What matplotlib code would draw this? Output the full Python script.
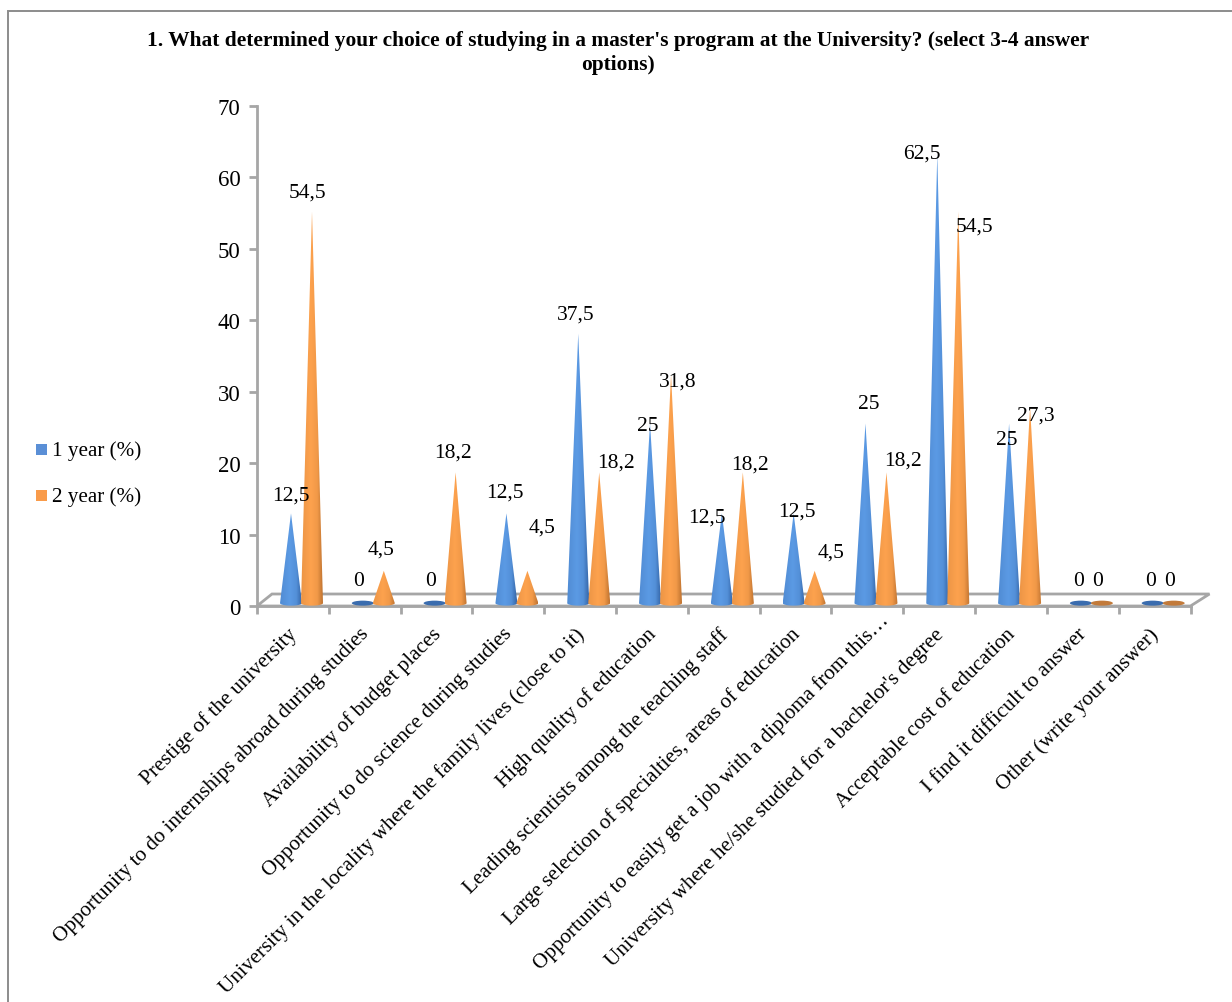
import numpy as np
import matplotlib
matplotlib.use('Agg')
import matplotlib.pyplot as plt
from matplotlib.colors import LinearSegmentedColormap
from matplotlib.patches import Ellipse, Polygon, Rectangle

W, H = 1232, 1003

categories = [
    'Prestige of the university',
    'Opportunity to do internships abroad during studies',
    'Availability of budget places',
    'Opportunity to do science during studies',
    'University in the locality where the family lives (close to it)',
    'High quality of education',
    'Leading scientists among the teaching staff',
    'Large selection of specialties, areas of education',
    'Opportunity to easily get a job with a diploma from this…',
    "University where he/she studied for a bachelor's degree",
    'Acceptable cost of education',
    'I find it difficult to answer',
    'Other (write your answer)',
]
year1 = [12.5, 0, 0, 12.5, 37.5, 25, 12.5, 12.5, 25, 62.5, 25, 0, 0]
year2 = [54.5, 4.5, 18.2, 4.5, 18.2, 31.8, 18.2, 4.5, 18.2, 54.5, 27.3, 0, 0]
labels1 = ['12,5', '0', '0', '12,5', '37,5', '25', '12,5', '12,5', '25', '62,5', '25', '0', '0']
labels2 = ['54,5', '4,5', '18,2', '4,5', '18,2', '31,8', '18,2', '4,5', '18,2', '54,5', '27,3', '0', '0']

# label offsets from the cone tip, in pixels (right, up)
offs1 = [(0, 18), (-4, 23), (-4, 23), (-2, 21), (-3, 20), (-2, -2), (-15, -4), (3, 2), (3, 20), (-15, 1), (-2, -16), (-2, 23), (-2, 23)]
offs2 = [(-4, 19), (-3, 22), (-3, 20), (15, 44), (17, 10), (7, -6), (7, 8), (16, 19), (17, 12), (16, -15), (6, -8), (-4, 23), (-4, 23)]

BLUE = ['#3566a8', '#5b9ae4', '#3a6cae']
ORANGE = ['#bf7330', '#fda24e', '#c27a3a']

plt.rcParams['font.family'] = ['Liberation Serif', 'DejaVu Serif']
fig = plt.figure(figsize=(W / 100, H / 100), dpi=100)

# plot area: tick 0 at px 257, tick 13 at px 1190.5; y=0 at px 607, y=70 at px 107
ax = fig.add_axes([257 / W, 1 - 607 / H, (1190.5 - 257) / W, 500 / H])
ax.set_xlim(0, 13)
ax.set_ylim(0, 70)
ax.patch.set_visible(False)
px_x = 13 / (1190.5 - 257)
px_y = 70 / 500

# outer chart border, the right side runs off the picture
fig.add_artist(Rectangle((8 / W, -0.01), 1.0, 1 - 12 / H + 0.01, transform=fig.transFigure,
                         fill=False, ec='#8c8c8c', lw=1.4))

for s in ['top', 'right']:
    ax.spines[s].set_visible(False)
for s in ['left', 'bottom']:
    ax.spines[s].set_color('#a6a6a6')
    ax.spines[s].set_linewidth(2)
ax.set_yticks(range(0, 71, 10))
ax.set_xticks(range(14))
ax.set_xticklabels([])
ax.tick_params(axis='y', length=6, width=2, color='#a6a6a6', labelsize=16.5, pad=6, direction='out')
ax.tick_params(axis='x', length=6, width=2, color='#a6a6a6')

# 3d floor
floor = [(0, 0), (15 * px_x, 12 * px_y), (13 + 19 * px_x, 12 * px_y), (13, 0)]
ax.add_patch(Polygon(floor, closed=True, fill=False, ec='#a6a6a6', lw=2, clip_on=False, zorder=1))


def draw_cone(xc, val, cols):
    cmap = LinearSegmentedColormap.from_list('c', cols[:2])
    hw = 11 * px_x
    base = 0.4
    if val == 0:
        ax.add_patch(Ellipse((xc, base), 2 * hw, 5 * px_y, fc=cols[2], ec='none', zorder=3, clip_on=False))
        return
    tip = base + val * 1.006
    grad = np.interp(np.linspace(0, 1, 100), [0, 0.45, 0.75, 1], [0.72, 1, 0.8, 0])[None, :]
    im = ax.imshow(grad, cmap=cmap, extent=[xc - hw, xc + hw, base - 0.6, tip], aspect='auto',
                   zorder=3, vmin=0, vmax=1, interpolation='bilinear')
    t = np.linspace(0, np.pi, 20)
    arc = [(xc + hw * np.cos(a), base - 0.35 * np.sin(a)) for a in t]
    clip = Polygon([(xc, tip), (xc - hw, base)] + arc[::-1], closed=True, transform=ax.transData)
    im.set_clip_path(clip)


x1 = [i + 34 * px_x for i in range(13)]
x2 = [i + 55 * px_x for i in range(13)]
for i in range(13):
    draw_cone(x1[i], year1[i], BLUE)
    draw_cone(x2[i], year2[i], ORANGE)
    for xc, v, lab, off in [(x1[i], year1[i], labels1[i], offs1[i]), (x2[i], year2[i], labels2[i], offs2[i])]:
        ax.annotate(lab, (xc, 0.4 + v * 1.006), xytext=(off[0] * 0.72, off[1] * 0.72), textcoords='offset points',
                    ha='center', va='center', fontsize=15.5, color='black', zorder=5, annotation_clip=False)

ax.set_xlim(0, 13)
ax.set_ylim(0, 70)

# category labels, right end of the text sits under the tick interval
for i, c in enumerate(categories):
    # the truncated label ends further up and to the right
    dx, dy = (8, -3) if i == 8 else (-4, -13)
    ax.annotate(c, (i + 0.5, 0), xytext=(dx, dy), textcoords='offset points', rotation=45,
                rotation_mode='anchor', ha='right', va='top', fontsize=15.2, color='black', annotation_clip=False)

fig.text(618 / W, 1 - 53 / H, "1. What determined your choice of studying in a master's program at the University? (select 3-4 answer\noptions)",
         ha='center', va='center', fontsize=15.4, fontweight='bold', linespacing=1.25)

# legend
for y_px, col, name in [(450.5, '#5a8fd6', '1 year (%)'), (496.5, '#f99b4a', '2 year (%)')]:
    fig.add_artist(Rectangle((36 / W, 1 - (y_px + 5.5) / H), 11 / W, 11 / H, transform=fig.transFigure, fc=col, ec='none'))
    fig.text(52 / W, 1 - (y_px + 0.5) / H, name, ha='left', va='center', fontsize=15.2)

fig.savefig('out.png', dpi=100)
